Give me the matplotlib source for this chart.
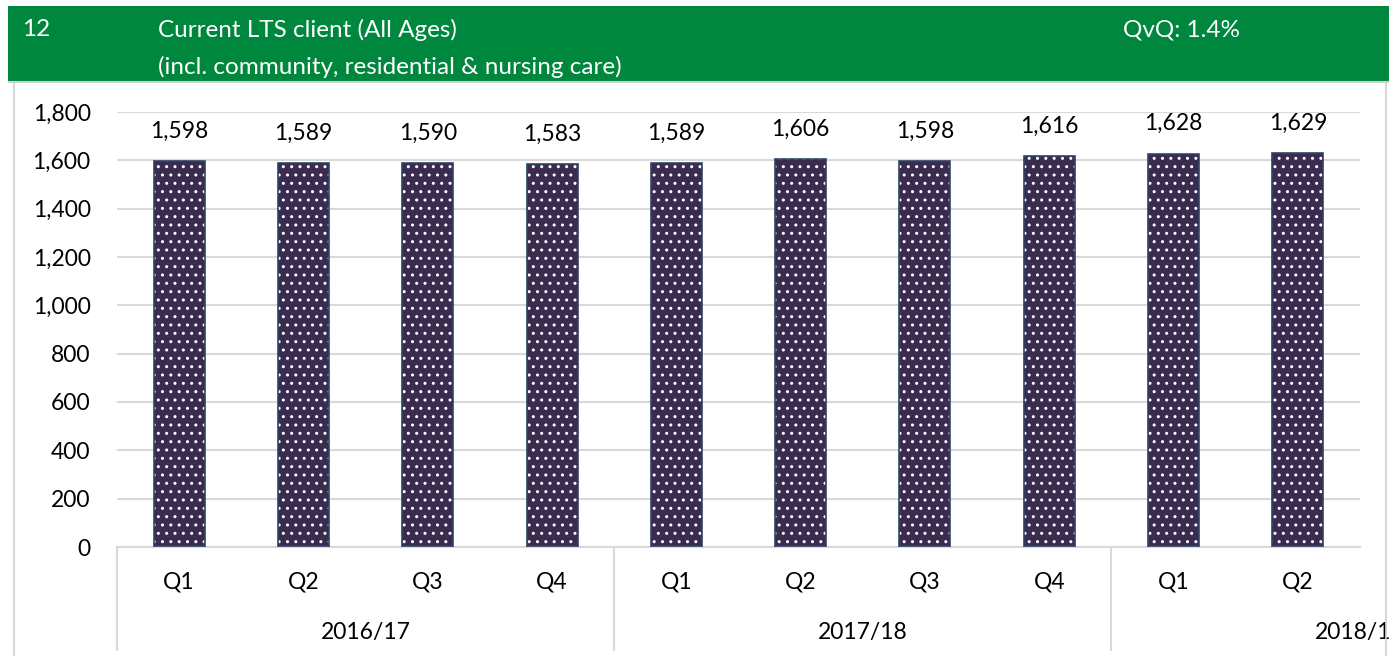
import matplotlib.pyplot as plt
import matplotlib.patches as mpatches
import matplotlib.transforms as mtransforms
from matplotlib.lines import Line2D
import numpy as np

plt.rcParams['font.family'] = ['Lato', 'DejaVu Sans']
plt.rcParams['hatch.linewidth'] = 1.0

# data
quarters = ['Q1', 'Q2', 'Q3', 'Q4', 'Q1', 'Q2', 'Q3', 'Q4', 'Q1', 'Q2']
years = ['2016/17', '2017/18', '2018/19']
year_sizes = [4, 4, 2]
clients = [1598, 1589, 1590, 1583, 1589, 1606, 1598, 1616, 1628, 1629]

W, H = 1389, 656
fig = plt.figure(figsize=(W / 100, H / 100), dpi=100)
fs = 16.5

# green header band
green = '#00873E'
fig.patches.append(mpatches.Rectangle((8 / W, 1 - 81 / H), 1 - 8 / W, 75 / H,
                                      transform=fig.transFigure, facecolor=green,
                                      edgecolor='none'))
fig.text(22 / W, 1 - 30 / H, '12', color='white', fontsize=17.5, va='center')
fig.text(158 / W, 1 - 30 / H, 'Current LTS client (All Ages)', color='white', fontsize=17.5, va='center')
fig.text(158 / W, 1 - 67 / H, '(incl. community, residential & nursing care)', color='white',
         fontsize=17.5, va='center')
fig.text(1123 / W, 1 - 30 / H, 'QvQ: 1.4%', color='white', fontsize=17.5, va='center')

# light frame round the chart
frame = '#D0D0D0'
fig.add_artist(Line2D([9 / W, 1], [1 - 82 / H] * 2, transform=fig.transFigure, color=frame, lw=1.5))
fig.add_artist(Line2D([14 / W] * 2, [0, 1 - 82 / H], transform=fig.transFigure, color=frame, lw=1.2))
fig.add_artist(Line2D([1386 / W] * 2, [0, 1 - 82 / H], transform=fig.transFigure, color=frame, lw=1.2))

ax = fig.add_axes([117 / W, 1 - 547 / H, 1243 / W, 435 / H])
x = np.arange(len(clients))

ax.bar(x, clients, width=0.41, color='#3B2B4F', edgecolor='white', hatch='..', linewidth=0, zorder=2)
ax.bar(x, clients, width=0.41, fill=False, edgecolor='#2D4466', linewidth=1.2, zorder=3)

for xi, v in zip(x, clients):
    ax.text(xi, v + 80, f'{v:,}', ha='center', va='bottom', fontsize=fs, color='black')

ax.set_xlim(-0.5, len(clients) - 0.5)
ax.set_ylim(0, 1800)
ax.set_yticks(range(0, 1801, 200))
ax.set_yticklabels([f'{t:,}' for t in range(0, 1801, 200)], fontsize=fs)
ax.yaxis.grid(True, color='#D9D9D9', linewidth=1.5, zorder=0)
ax.set_axisbelow(True)
ax.tick_params(axis='y', length=0, pad=19)
ax.tick_params(axis='x', length=0)
ax.set_xticks([])
for s in ['top', 'right', 'left']:
    ax.spines[s].set_visible(False)
ax.spines['bottom'].set_color('#D9D9D9')
ax.spines['bottom'].set_linewidth(1.5)

# two-level category axis
trans = mtransforms.blended_transform_factory(ax.transData, ax.transAxes)
for xi, q in zip(x, quarters):
    ax.text(xi, -35 / 435, q, transform=trans, ha='center', va='center', fontsize=fs)

start = 0
bounds = [-0.5]
for yr, n in zip(years, year_sizes):
    # each year label sits in the middle of a full four-quarter span
    ax.text(start + 1.5, -85 / 435, yr, transform=trans,
            ha='center', va='center', fontsize=fs, clip_on=False)
    start += n
    bounds.append(start - 0.5)
for b in bounds[:-1]:
    ax.add_line(Line2D([b, b], [0, -103 / 435], transform=trans, color='#D9D9D9', lw=1.5,
                       clip_on=False))

fig.savefig('out.png', dpi=100)
